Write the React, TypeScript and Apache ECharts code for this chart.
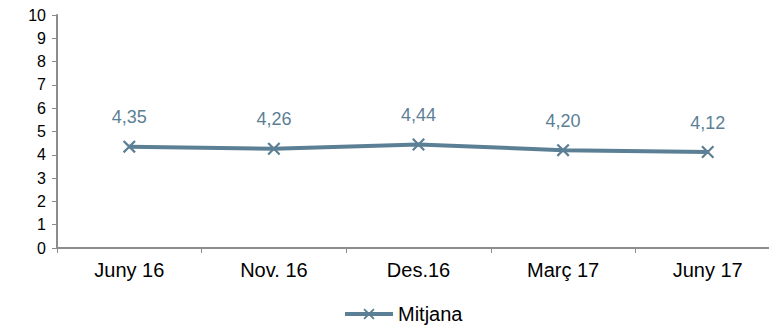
import React, { useEffect, useRef } from "react";
import * as echarts from "echarts";

const categories = ["Juny 16", "Nov. 16", "Des.16", "Març 17", "Juny 17"];
const mitjana = [4.35, 4.26, 4.44, 4.2, 4.12];
const seriesName = "Mitjana";

const xSymbol =
  "path://M0,1.2 L1.2,0 L5,3.8 L8.8,0 L10,1.2 L6.2,5 L10,8.8 L8.8,10 L5,6.2 L1.2,10 L0,8.8 L3.8,5 Z";

export default function App() {
  const ref = useRef<HTMLDivElement>(null);
  useEffect(() => {
    const chart = echarts.init(ref.current!, null, { renderer: "svg" });
    const color = "#5b7f95";
    chart.setOption({
      animation: false,
      textStyle: { fontFamily: "Arial" },
      grid: { left: 57, right: 0, top: 15, bottom: 82, containLabel: false },
      legend: {
        bottom: 1,
        left: 338,
        itemWidth: 48,
        itemHeight: 14,
        itemGap: 5,
        lineStyle: { width: 4 },
        textStyle: { fontSize: 20, color: "#000", fontFamily: "Arial" },
        data: [seriesName],
      },
      xAxis: {
        type: "category",
        data: categories,
        boundaryGap: true,
        axisLine: { lineStyle: { color: "#8c8c8c", width: 2 } },
        axisTick: { show: true, length: 5, lineStyle: { color: "#8c8c8c", width: 1 } },
        axisLabel: { fontSize: 20, color: "#000", margin: 12, fontFamily: "Arial" },
      },
      yAxis: {
        type: "value",
        min: 0,
        max: 10,
        interval: 1,
        splitLine: { show: false },
        axisLine: { show: true, lineStyle: { color: "#8c8c8c", width: 2 } },
        axisTick: { show: true, length: 5, lineStyle: { color: "#8c8c8c", width: 1 } },
        axisLabel: { fontSize: 16, color: "#000", margin: 11, fontFamily: "Arial" },
      },
      series: [
        {
          name: seriesName,
          type: "line",
          data: mitjana,
          symbol: xSymbol,
          symbolSize: 13,
          itemStyle: { color },
          lineStyle: { color, width: 4 },
          label: {
            show: true,
            position: "top",
            distance: 14,
            fontSize: 18,
            color,
            fontFamily: "Arial",
            formatter: (p: any) => p.value.toFixed(2).replace(".", ","),
          },
        },
      ],
    });
    return () => chart.dispose();
  }, []);
  return (
    <div
      ref={ref}
      style={{ position: "fixed", left: 0, top: 0, width: 780, height: 330, background: "#fff" }}
    />
  );
}
